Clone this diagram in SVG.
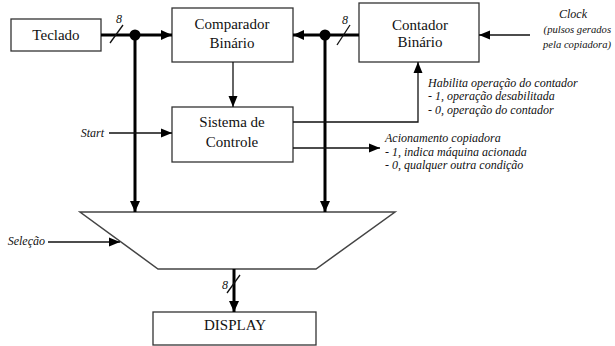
<svg xmlns="http://www.w3.org/2000/svg" width="615" height="346" viewBox="0 0 615 346">
  <style>
    .box { fill: #fff; stroke: #333; stroke-width: 1.3; }
    .lbl { font-family: 'Liberation Serif', 'DejaVu Serif', serif; font-size: 15px; fill: #111; text-anchor: middle; }
    .note { font-family: 'Liberation Serif', 'DejaVu Serif', serif; font-size: 12px; font-style: italic; fill: #111; }
    .clk { font-size: 10.6px; }
    .bus { fill: none; stroke: #000; stroke-width: 3; }
    .wire { fill: none; stroke: #111; stroke-width: 1.3; }
    .slash { stroke: #111; stroke-width: 1.3; }
    .mux { fill: #fff; stroke: #444; stroke-width: 1.5; stroke-linejoin: miter; }
  </style>
  <defs>
    <marker id="ahBus" markerUnits="userSpaceOnUse" markerWidth="12" markerHeight="10" refX="11" refY="5" orient="auto">
      <path d="M0,0 L11,5 L0,10 Z" fill="#000"/>
    </marker>
    <marker id="ah" markerUnits="userSpaceOnUse" markerWidth="12" markerHeight="10" refX="11" refY="5" orient="auto">
      <path d="M0,0.5 L11,5 L0,9.5 Z" fill="#000"/>
    </marker>
  </defs>

  <rect width="615" height="346" fill="#fff"/>

  <!-- multiplexer feeding the display -->
  <g id="mux">
    <polygon class="mux" points="80,212 395,212 316,269 158,269"/>
  </g>

  <g id="teclado">
    <rect class="box" x="11" y="19" width="90" height="32"/>
    <text class="lbl" x="56" y="40">Teclado</text>
  </g>

  <g id="comparador">
    <rect class="box" x="172" y="8" width="121" height="54"/>
    <text class="lbl" x="232" y="29">Comparador</text>
    <text class="lbl" x="232" y="48">Binário</text>
  </g>

  <g id="contador">
    <rect class="box" x="359" y="3" width="120" height="59"/>
    <text class="lbl" x="420" y="30">Contador</text>
    <text class="lbl" x="420" y="47">Binário</text>
  </g>

  <g id="sistema">
    <rect class="box" x="172" y="107" width="121" height="55"/>
    <text class="lbl" x="232" y="127">Sistema de</text>
    <text class="lbl" x="232" y="147">Controle</text>
  </g>

  <g id="display">
    <rect class="box" x="153" y="312" width="163" height="33"/>
    <text class="lbl" x="235" y="330">DISPLAY</text>
  </g>

  <g id="connectors">
    <!-- 8-bit buses -->
    <path class="bus" d="M101,35 H172" marker-end="url(#ahBus)"/>
    <path class="bus" d="M359,35 H293" marker-end="url(#ahBus)"/>
    <path class="bus" d="M135,35 V212" marker-end="url(#ahBus)"/>
    <path class="bus" d="M325,35 V212" marker-end="url(#ahBus)"/>
    <path class="bus" d="M234,269 V312" marker-end="url(#ahBus)"/>
    <circle cx="135" cy="35" r="5.5" fill="#000"/>
    <circle cx="325" cy="35" r="5.5" fill="#000"/>

    <!-- bus width marks -->
    <line class="slash" x1="110" y1="43" x2="123" y2="25"/>
    <line class="slash" x1="337" y1="45" x2="350" y2="25"/>
    <line class="slash" x1="227" y1="293" x2="240" y2="275"/>
    <text class="note" x="119" y="23" text-anchor="middle">8</text>
    <text class="note" x="345" y="24" text-anchor="middle">8</text>
    <text class="note" x="225" y="289" text-anchor="middle">8</text>

    <!-- control signals -->
    <path class="wire" d="M233,62 V107" marker-end="url(#ah)"/>
    <path class="wire" d="M109,133 H172" marker-end="url(#ah)"/>
    <path class="wire" d="M293,122 H418 V62" marker-end="url(#ah)"/>
    <path class="wire" d="M293,148 H380" marker-end="url(#ah)"/>
    <path class="wire" d="M530,35 H479" marker-end="url(#ah)"/>
    <path class="wire" d="M48,242 H120" marker-end="url(#ah)"/>
  </g>

  <!-- signal annotations -->
  <g id="annotations">
    <text class="note" x="104" y="137" text-anchor="end">Start</text>
    <text class="note" x="45" y="245" text-anchor="end">Seleção</text>

    <text class="note" x="573" y="18" text-anchor="middle">Clock</text>
    <text class="note clk" x="611" y="33" text-anchor="end">(pulsos gerados</text>
    <text class="note clk" x="611" y="48" text-anchor="end">pela copiadora)</text>

    <text class="note" x="428" y="87">Habilita operação do contador</text>
    <text class="note" x="428" y="100">- 1, operação desabilitada</text>
    <text class="note" x="428" y="114">- 0, operação do contador</text>

    <text class="note" x="385" y="142">Acionamento copiadora</text>
    <text class="note" x="385" y="156">- 1, indica máquina acionada</text>
    <text class="note" x="385" y="169">- 0, qualquer outra condição</text>
  </g>
</svg>
